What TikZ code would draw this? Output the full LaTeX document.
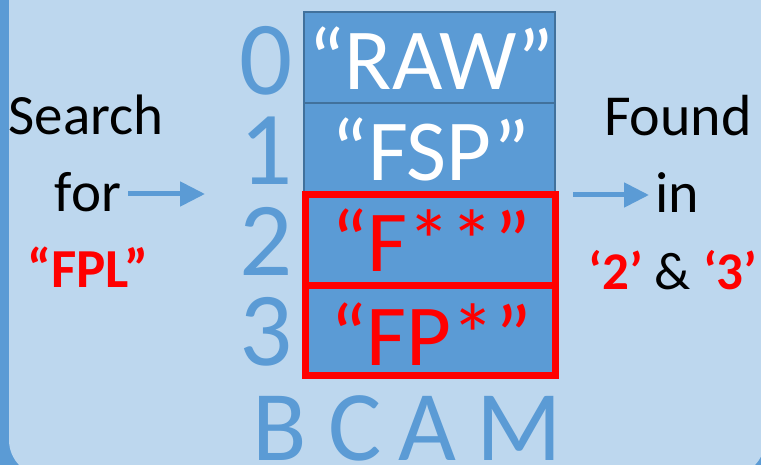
\documentclass[tikz,border=0pt]{standalone}
\usepackage{fontspec}
\setmainfont{Carlito}
\usetikzlibrary{arrows.meta}
\definecolor{panel}{HTML}{BDD7EE}
\definecolor{accent}{HTML}{5B9BD5}
\definecolor{cellline}{HTML}{41719C}
\definecolor{hit}{HTML}{FF0000}
\newcommand{\fsz}[1]{\fontsize{#1}{#1}\selectfont}
\tikzset{
  cell/.style={fill=accent, draw=cellline, line width=1.5pt},
  match/.style={draw=hit, line width=7.6pt},
  celltext/.style={anchor=base, text=white, inner sep=0pt, font=\fsz{87}},
  hittext/.style={celltext, text=hit},
  idx/.style={anchor=base, text=accent, inner sep=0pt, text height=68pt, text depth=0pt, font=\fsz{105}},
  camletter/.style={anchor=base, text=accent, inner sep=0pt, text height=64pt, text depth=0pt, font=\fsz{100}},
  side/.style={anchor=base, inner sep=0pt, text depth=1pt, font=\fsz{57}},
  sidered/.style={anchor=base, inner sep=0pt, text=hit, font=\fsz{55}\bfseries},
  flow/.style={draw=accent, line width=5pt, -{Triangle[length=25pt,width=24pt]}},
}
\begin{document}
\begin{tikzpicture}[x=1pt,y=-1pt]
  \useasboundingbox (0,0) rectangle (761,465);
  % frame
  \fill[accent] (0,0) rectangle (761,465);
  \fill[panel, rounded corners=36pt] (9,-60) rectangle (765,476);
  % memory rows
  \draw[cell] (304,12) rectangle (555,103);
  \draw[cell] (304,103) rectangle (555,194);
  \draw[cell] (304,194) rectangle (555,285);
  \draw[cell] (304,285) rectangle (555,376);
  \draw[match] (305.5,194.5) rectangle (555.5,285.5);
  \draw[match] (305.5,285.5) rectangle (555.5,375.5);
  % row contents
  \node[celltext] (r0) at (431,90) {“RAW”};
  \node[celltext] (r1) at (431,181) {“FSP”};
  \node[hittext] (r2) at (431,272) {“F**”};
  \node[hittext] (r3) at (431,366) {“FP*”};
  % addresses
  \node[idx] (a0) at (266,95) {0};
  \node[idx] (a1) at (266,185) {1};
  \node[idx] (a2) at (266,276) {2};
  \node[idx] (a3) at (266,366) {3};
  % label
  \node[camletter] (lb) at (280,460) {B};
  \node[camletter] (lc) at (355,460) {C};
  \node[camletter] (la) at (427,460) {A};
  \node[camletter] (lm) at (519,460) {M};
  % query
  \node[side] (search) at (86,135) {Search};
  \node[side] (for) at (88,212) {for};
  \node[sidered] (key) at (88,288) {“FPL”};
  \coordinate (inS) at (128,194);
  \coordinate (inE) at (205,194);
  \draw[flow] (inS) -- (inE);
  % result
  \node[side, font=\fsz{58}] (found) at (678,136) {Found};
  \node[side, font=\fsz{58}] (in) at (677,213) {in};
  \node[side, font=\fsz{53}] (res) at (673,290) {\textcolor{hit}{\bfseries ‘2’} \& \textcolor{hit}{\bfseries ‘3’}};
  \coordinate (outS) at (573,195);
  \coordinate (outE) at (649,195);
  \draw[flow] (outS) -- (outE);
\end{tikzpicture}
\end{document}
